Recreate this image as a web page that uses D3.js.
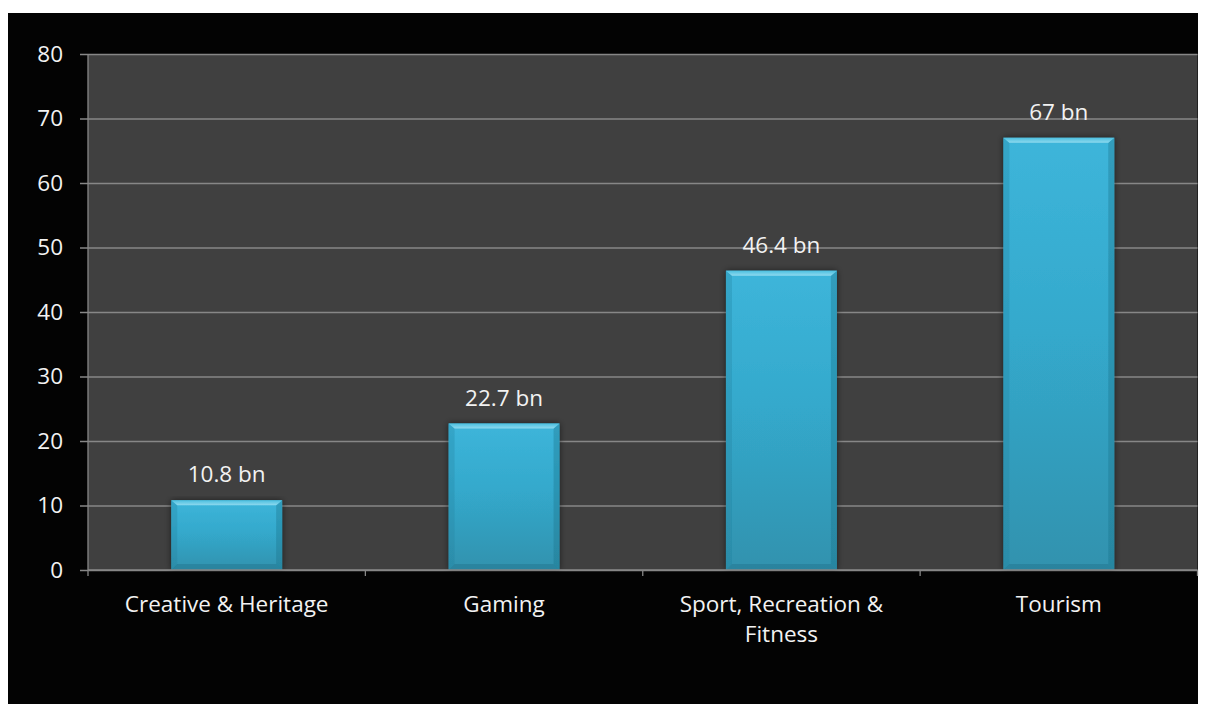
<!DOCTYPE html>
<html>
<head>
<meta charset="utf-8">
<script src="https://cdn.jsdelivr.net/npm/d3@7"></script>
<style>
  html, body { margin: 0; padding: 0; background: #ffffff; }
  svg { display: block; }
  text { font-family: "Open Sans", "Lato", sans-serif; fill: #f2f2f2; }
</style>
</head>
<body>
<svg id="chart" width="1205" height="704"></svg>
<script>
// Economic contribution by sector (billions)
const categories = [["Creative & Heritage"], ["Gaming"], ["Sport, Recreation &", "Fitness"], ["Tourism"]];
const values = [10.8, 22.7, 46.4, 67];
const valueLabels = ["10.8 bn", "22.7 bn", "46.4 bn", "67 bn"];
const yTicks = [0, 10, 20, 30, 40, 50, 60, 70, 80];

const svg = d3.select("#chart");
const frame = { x: 8, y: 13, w: 1190, h: 691 };
const plot = { left: 88, right: 1197.5, top: 54, bottom: 570 };
const gridColor = "#878787";
const fontSize = 22.5;

const defs = svg.append("defs");
const main = defs.append("linearGradient").attr("id", "barMain")
  .attr("x1", 0).attr("y1", 0).attr("x2", 0).attr("y2", 1);
main.append("stop").attr("offset", "0%").attr("stop-color", "#3db5da");
main.append("stop").attr("offset", "45%").attr("stop-color", "#34a9cc");
main.append("stop").attr("offset", "100%").attr("stop-color", "#3192ae");

const topBevel = defs.append("linearGradient").attr("id", "barTop")
  .attr("x1", 0).attr("y1", 0).attr("x2", 0).attr("y2", 1);
topBevel.append("stop").attr("offset", "0%").attr("stop-color", "#4cc0e0");
topBevel.append("stop").attr("offset", "100%").attr("stop-color", "#8fd9ee");

const shadow = defs.append("filter").attr("id", "barShadow")
  .attr("x", "-20%").attr("y", "-5%").attr("width", "140%").attr("height", "110%");
shadow.append("feGaussianBlur").attr("in", "SourceAlpha").attr("stdDeviation", 3).attr("result", "b");
shadow.append("feComponentTransfer").attr("in", "b").attr("result", "s")
  .append("feFuncA").attr("type", "linear").attr("slope", 0.55);
const merge = shadow.append("feMerge");
merge.append("feMergeNode").attr("in", "s");
merge.append("feMergeNode").attr("in", "SourceGraphic");

// Outer black frame and plot background
svg.append("rect").attr("x", frame.x).attr("y", frame.y)
  .attr("width", frame.w).attr("height", frame.h).attr("fill", "#030303");
svg.append("rect").attr("x", plot.left).attr("y", plot.top)
  .attr("width", plot.right - plot.left).attr("height", plot.bottom - plot.top)
  .attr("fill", "#404040");

const x = d3.scaleBand().domain(d3.range(values.length))
  .range([plot.left, plot.right]).paddingInner(0).paddingOuter(0);
const y = d3.scaleLinear().domain([0, 80]).range([plot.bottom, plot.top]);

// Gridlines with left tick marks
const yAxis = d3.axisLeft(y).tickValues(yTicks)
  .tickSize(-(plot.right - plot.left)).tickFormat(d3.format("d"));
const gy = svg.append("g").attr("transform", `translate(${plot.left},0)`).call(yAxis);
gy.select(".domain").remove();
gy.selectAll(".tick line").attr("stroke", gridColor).attr("stroke-width", 1.3)
  .attr("x1", -8).attr("x2", plot.right - plot.left);
gy.selectAll(".tick text").attr("font-size", fontSize).attr("fill", "#f2f2f2")
  .attr("x", -25).attr("font-family", '"Open Sans", sans-serif');

// Bars with bevel
const bw = x.bandwidth() * 0.4;
const bars = svg.append("g").selectAll("g").data(values).join("g")
  .attr("filter", "url(#barShadow)");
bars.each(function (v, i) {
  const g = d3.select(this);
  const x0 = x(i) + (x.bandwidth() - bw) / 2, x1 = x0 + bw;
  const y0 = y(v), y1 = y(0);
  const b = 6, bt = 5;
  g.append("rect").attr("x", x0).attr("y", y0).attr("width", bw).attr("height", y1 - y0)
    .attr("fill", "url(#barMain)");
  // left / right side bevels
  g.append("path").attr("d", `M${x0},${y0}L${x0 + b},${y0 + bt}L${x0 + b},${y1 - b}L${x0},${y1}Z`)
    .attr("fill", "#1f7f9c").attr("opacity", 0.28);
  g.append("path").attr("d", `M${x1},${y0}L${x1 - b},${y0 + bt}L${x1 - b},${y1 - b}L${x1},${y1}Z`)
    .attr("fill", "#1a6f88").attr("opacity", 0.35);
  // bottom bevel
  g.append("path").attr("d", `M${x0},${y1}L${x0 + b},${y1 - b}L${x1 - b},${y1 - b}L${x1},${y1}Z`)
    .attr("fill", "#1d6e87").attr("opacity", 0.4);
  // top bevel
  g.append("path").attr("d", `M${x0},${y0}L${x1},${y0}L${x1 - b},${y0 + bt}L${x0 + b},${y0 + bt}Z`)
    .attr("fill", "url(#barTop)");
});

// Axis lines
svg.append("line").attr("x1", plot.left).attr("x2", plot.left)
  .attr("y1", plot.top).attr("y2", plot.bottom)
  .attr("stroke", gridColor).attr("stroke-width", 1.3);
const xAxis = d3.axisBottom(x).tickSize(0).tickFormat("");
const gx = svg.append("g").attr("transform", `translate(0,${plot.bottom})`).call(xAxis);
gx.select(".domain").attr("stroke", gridColor).attr("stroke-width", 1.5)
  .attr("d", `M${plot.left},0H${plot.right}`);
gx.selectAll(".tick").remove();
const boundaries = d3.range(values.length + 1).map(i => plot.left + i * x.step());
gx.selectAll("line.sep").data(boundaries).join("line").attr("class", "sep")
  .attr("x1", d => d).attr("x2", d => d).attr("y1", 0).attr("y2", 6)
  .attr("stroke", gridColor).attr("stroke-width", 1.3);

// Category labels
svg.append("g").selectAll("text").data(categories).join("text")
  .attr("x", (d, i) => x(i) + x.bandwidth() / 2)
  .attr("y", 612).attr("text-anchor", "middle").attr("font-size", fontSize)
  .selectAll("tspan").data(d => d).join("tspan")
  .attr("x", function () { return d3.select(this.parentNode).attr("x"); })
  .attr("dy", (d, j) => j === 0 ? 0 : 30).text(d => d);

// Value labels
svg.append("g").selectAll("text").data(values).join("text")
  .attr("x", (d, i) => x(i) + x.bandwidth() / 2)
  .attr("y", d => y(d) - 18).attr("text-anchor", "middle").attr("font-size", fontSize)
  .text((d, i) => valueLabels[i]);
</script>
</body>
</html>
